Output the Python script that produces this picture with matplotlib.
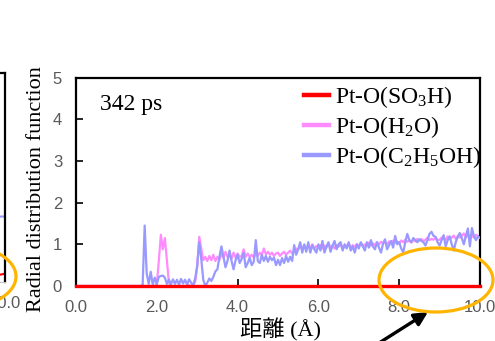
import numpy as np
import matplotlib
matplotlib.use("Agg")
import matplotlib.pyplot as plt
from matplotlib.patches import Ellipse

plt.rcParams['mathtext.fontset'] = 'custom'
plt.rcParams['mathtext.rm'] = 'Liberation Serif'
plt.rcParams['mathtext.it'] = 'Liberation Serif:italic'

# distance grid (0.0, then 1.50 ... 10.00 every 0.05 A)
r = np.concatenate([[0.0], np.round(np.arange(1.5, 10.001, 0.05), 2)])

# Pt-O(C2H5OH)
g_etoh = [0.0,
          0, 0, 0, 0.03, 1.45, 0.3, 0.05, 0.34, 0.03, 0.2,
          0.05, 0.22, 0.24, 0.25, 0.2, 0.05, 0.15, 0.04, 0.16, 0.05,
          0.15, 0.03, 0.17, 0.06, 0.15, 0.03, 0.16, 0.08, 0.02, 0.18,
          0.5, 1.05, 0.65, 0.15, 0.0, 0.08, 0.18, 0.12, 0.22, 0.35,
          0.4, 0.7, 0.95, 0.7, 0.45, 0.6, 0.85, 0.6, 0.4, 0.62,
          0.75, 0.55, 0.65, 0.8, 0.45, 0.55, 0.68, 0.5, 0.58, 1.1,
          0.6, 0.55, 0.75, 0.6, 0.72, 0.58, 0.7, 0.62, 0.68, 0.5,
          0.63, 0.5, 0.67, 0.55, 0.72, 0.58, 0.7, 0.6, 0.98, 0.75,
          0.88, 1.05, 0.8, 1.0, 0.82, 1.05, 0.8, 0.98, 0.88, 0.8,
          1.0, 0.85, 1.08, 0.8, 0.95, 1.05, 0.82, 0.97, 1.08, 0.88,
          1.0, 1.05, 0.85, 1.0, 0.9, 1.05, 0.85, 0.95, 0.8, 1.0,
          0.9, 1.05, 0.95, 0.85, 1.05, 0.92, 1.1, 0.95, 0.88, 1.05,
          0.92, 0.8, 1.02, 1.12, 0.88, 0.98, 1.08, 0.92, 1.2, 1.0,
          1.05, 0.9, 0.8, 1.05, 1.25, 1.1, 1.05, 1.15, 1.1, 1.05,
          1.12, 1.08, 1.05, 0.97, 1.1, 1.25, 1.3, 1.2, 1.18, 1.05,
          0.97, 1.1, 1.22, 0.95, 1.1, 1.19, 1.0, 0.85, 1.05, 1.19,
          1.27, 1.15, 1.0, 1.2, 1.38, 0.95, 1.39, 1.2, 1.1, 1.19,
          1.15]

# Pt-O(H2O)
g_h2o = [0.0,
         0, 0, 0, 0, 0, 0, 0, 0, 0, 0,
         0.05, 0.6, 1.23, 0.88, 1.15, 0.6, 0.08, 0, 0, 0,
         0, 0, 0, 0, 0, 0, 0.02, 0, 0.03, 0.1,
         0.45, 1.18, 0.9, 0.62, 0.7, 0.6, 0.72, 0.62, 0.75, 0.6,
         0.7, 0.62, 0.78, 0.68, 0.82, 0.7, 0.75, 0.65, 0.8, 0.68,
         0.78, 0.7, 0.72, 0.88, 0.7, 0.78, 0.7, 0.75, 0.68, 0.78,
         0.72, 0.8, 0.75, 0.9, 0.76, 0.82, 0.75, 0.8, 0.72, 0.78,
         0.8, 0.72, 0.78, 0.82, 0.75, 0.8, 0.85, 0.78, 0.82, 0.9,
         0.88, 0.95, 0.9, 0.98, 0.88, 0.95, 0.9, 1.0, 0.9, 0.96,
         0.93, 0.98, 0.9, 0.97, 0.92, 1.02, 0.92, 0.97, 0.9, 0.98,
         0.94, 1.0, 0.92, 0.97, 0.95, 1.02, 0.92, 0.98, 0.94, 1.0,
         0.96, 1.02, 0.95, 1.0, 0.97, 1.04, 0.97, 1.02, 0.98, 1.05,
         1.0, 1.06, 1.02, 1.04, 1.0, 1.07, 1.02, 1.09, 1.04, 1.07,
         1.02, 1.09, 1.05, 1.11, 1.06, 1.09, 1.04, 1.11, 1.07, 1.13,
         1.09, 1.13, 1.07, 1.11, 1.16, 1.1, 1.13, 1.11, 1.16, 1.1,
         1.11, 1.16, 1.13, 1.11, 1.19, 1.13, 1.16, 1.21, 1.13, 1.19,
         1.16, 1.21, 1.26, 1.16, 1.23, 1.19, 1.21, 1.16, 1.23, 1.19,
         1.2]

# Pt-O(SO3H) stays at zero over the whole range
r_so3h = [0.0, 10.0]
g_so3h = [0.0, 0.0]

# tail end of the neighbouring panel (only its right edge is visible)
r_prev = [9.6, 10.0]
g_prev_etoh = [1.55, 1.57]
g_prev_so3h = [0.12, 0.2]

labels = ['Pt-O(SO$_3$H)', 'Pt-O(H$_2$O)', 'Pt-O(C$_2$H$_5$OH)']
colors = ['#FF0000', '#FF8CFF', '#9999FF']
xticks = [0, 2, 4, 6, 8, 10]
yticks = [0, 1, 2, 3, 4, 5]

W, H = 495, 341
fig = plt.figure(figsize=(W / 100, H / 100), dpi=100)


def style(ax, xt, yt):
    ax.set_xlim(0, 10)
    ax.set_ylim(0, 5)
    ax.set_xticks(xt)
    ax.set_yticks(yt)
    ax.set_xticklabels([f"{v:.1f}" for v in xt])
    ax.tick_params(direction='in', length=5, width=1.2, color='black',
                   labelcolor='#595959', labelsize=12, pad=10)
    for lab in ax.get_xticklabels() + ax.get_yticklabels():
        lab.set_family('Liberation Sans')
    for side in ['left', 'top', 'right']:
        ax.spines[side].set_linewidth(1.6)
        ax.spines[side].set_color('black')
    ax.spines['bottom'].set_color('#BFBFBF')


# neighbouring panel, cut off by the left edge
ax0 = fig.add_axes([5 / W - 0.8, 1 - 282 / H, 0.8, (282 - 73) / H])
style(ax0, [10], [])
ax0.plot(r_prev, g_prev_etoh, color=colors[2], lw=1.5)
ax0.plot(r_prev, g_prev_so3h, color=colors[0], lw=1.5)

# main panel
ax = fig.add_axes([76 / W, 1 - 286 / H, (480 - 76) / W, (286 - 77.5) / H])
style(ax, xticks, yticks)
ax.plot(r_so3h, g_so3h, color=colors[0], lw=2.4, label=labels[0], zorder=4,
        clip_on=False)
ax.plot(r, g_h2o, color=colors[1], lw=1.6, label=labels[1], zorder=2)
ax.plot(r, g_etoh, color=colors[2], lw=1.6, label=labels[2], zorder=3)

ax.text(100 / W, 1 - 105 / H, '342 ps', transform=fig.transFigure,
        family='Liberation Serif', fontsize=17, va='center', ha='left')

leg = ax.legend(loc='upper left', bbox_to_anchor=(304 / W, 1 - 84 / H),
                bbox_transform=fig.transFigure, frameon=False,
                prop={'family': 'Liberation Serif', 'size': 17},
                handlelength=1.05, handletextpad=0.25, labelspacing=0.18,
                borderpad=0, borderaxespad=0)
for ln in leg.get_lines():
    ln.set_linewidth(3.2)

fig.text(37 / W, 1 - 189 / H, 'Radial distribution function', rotation=90,
         family='Liberation Serif', fontsize=16, ha='center', va='center')
fig.text(280 / W, 1 - 330 / H, '距離 (Å)',
         family=['Liberation Serif', 'Noto Sans CJK JP'], fontsize=16,
         ha='center', va='center')

# highlight ellipses and arrow
for cx, cy in [(436, 280), (-41, 276.5)]:
    fig.add_artist(Ellipse((cx / W, 1 - cy / H), 114 / W, 64 / H,
                           transform=fig.transFigure, fill=False,
                           ec='#FFB400', lw=2.3, zorder=10))
ax.annotate('', xy=(428 / W, 1 - 312 / H), xycoords='figure fraction',
            xytext=(368 / W, 1 - 350 / H), textcoords='figure fraction',
            arrowprops=dict(arrowstyle='-|>', color='black', lw=2.4,
                            mutation_scale=20, shrinkA=0, shrinkB=0),
            annotation_clip=False)

fig.savefig('out.png', dpi=100)
